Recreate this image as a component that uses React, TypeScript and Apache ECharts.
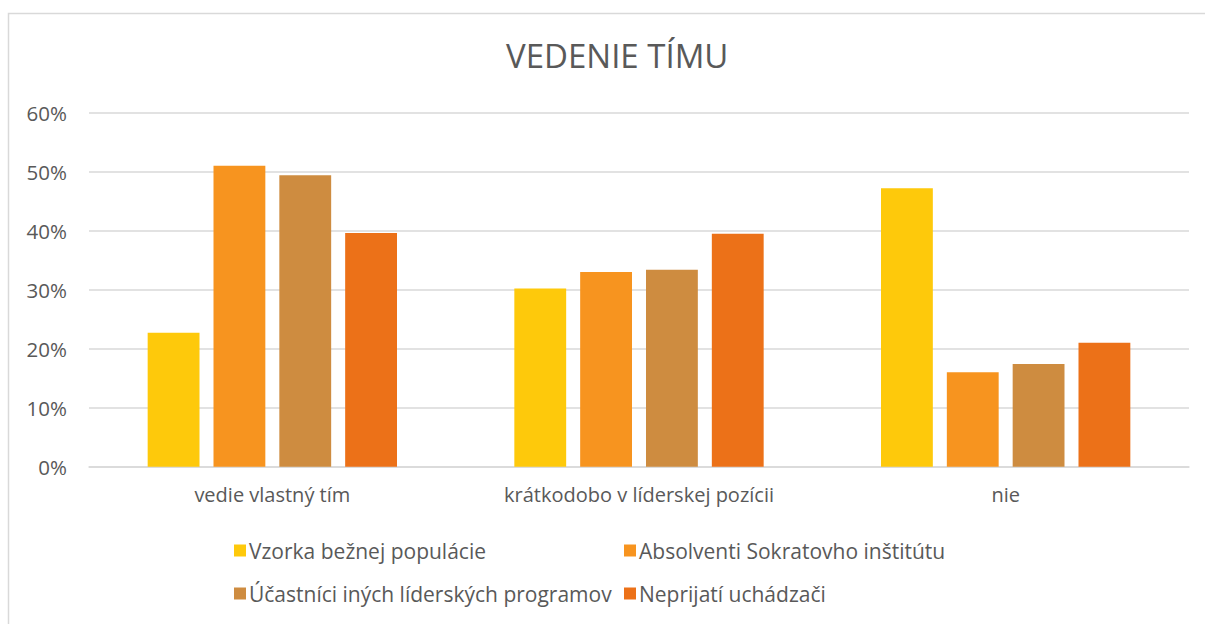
import React, { useEffect, useRef } from "react";
import * as echarts from "echarts";

const categories = ["vedie vlastný tím", "krátkodobo v líderskej pozícii", "nie"];
const seriesNames = [
  "Vzorka bežnej populácie",
  "Absolventi Sokratovho inštitútu",
  "Účastníci iných líderských programov",
  "Neprijatí uchádzači",
];
const vzorka = [0.227, 0.302, 0.472];
const absolventi = [0.51, 0.33, 0.16];
const ucastnici = [0.494, 0.334, 0.174];
const neprijati = [0.396, 0.395, 0.21];
const colors = ["#FEC90B", "#F7941F", "#CE8C40", "#EC7118"];
const yTicks = [0, 0.1, 0.2, 0.3, 0.4, 0.5, 0.6];

const FONT = "'Open Sans', sans-serif";
const TEXT = "#595959";

export default function App() {
  const ref = useRef<HTMLDivElement>(null);
  useEffect(() => {
    if (!ref.current) return;
    const chart = echarts.init(ref.current, null, { renderer: "svg" });
    const values = [vzorka, absolventi, ucastnici, neprijati];
    const legendText = { fontFamily: FONT, fontSize: 21, color: TEXT, padding: [0, 0, 0, -2] };
    chart.setOption({
      animation: false,
      backgroundColor: "#ffffff",
      textStyle: { fontFamily: FONT },
      title: {
        text: "VEDENIE TÍMU",
        left: 501,
        top: 34,
        textStyle: { fontFamily: FONT, fontSize: 33, fontWeight: "normal", color: TEXT },
      },
      graphic: [
        {
          type: "rect",
          shape: { x: 8.5, y: 13.5, width: 1400, height: 800 },
          style: { fill: "none", stroke: "#d9d9d9", lineWidth: 1.5 },
          silent: true,
          z: -1,
        },
      ],
      legend: [
        {
          data: [seriesNames[0], seriesNames[2]],
          orient: "vertical",
          left: 229,
          top: 535,
          itemGap: 22,
          itemWidth: 12,
          itemHeight: 12,
          icon: "rect",
          textStyle: legendText,
        },
        {
          data: [seriesNames[1], seriesNames[3]],
          orient: "vertical",
          left: 619,
          top: 535,
          itemGap: 22,
          itemWidth: 12,
          itemHeight: 12,
          icon: "rect",
          textStyle: legendText,
        },
      ],
      grid: { left: 89, right: 16, top: 112.7, bottom: 157.3, containLabel: false },
      xAxis: {
        type: "category",
        data: categories,
        axisLine: { lineStyle: { color: "#d9d9d9", width: 1.5 } },
        axisTick: { show: false },
        axisLabel: { fontFamily: FONT, fontSize: 20, color: TEXT, margin: 18 },
      },
      yAxis: {
        type: "value",
        min: yTicks[0],
        max: yTicks[yTicks.length - 1],
        interval: 0.1,
        axisLine: { show: false },
        axisTick: { show: false },
        splitLine: { lineStyle: { color: "#d9d9d9", width: 1.5 } },
        axisLabel: {
          fontFamily: FONT,
          fontSize: 20.5,
          color: TEXT,
          margin: 22,
          formatter: (v: number) => `${Math.round(v * 100)}%`,
        },
      },
      series: seriesNames.map((name, i) => ({
        name,
        type: "bar",
        data: values[i],
        barGap: "27%",
        barCategoryGap: "32%",
        itemStyle: { color: colors[i] },
      })),
    });
    return () => chart.dispose();
  }, []);
  return (
    <div
      ref={ref}
      style={{ position: "fixed", left: 0, top: 0, width: 1205, height: 624 }}
    />
  );
}
